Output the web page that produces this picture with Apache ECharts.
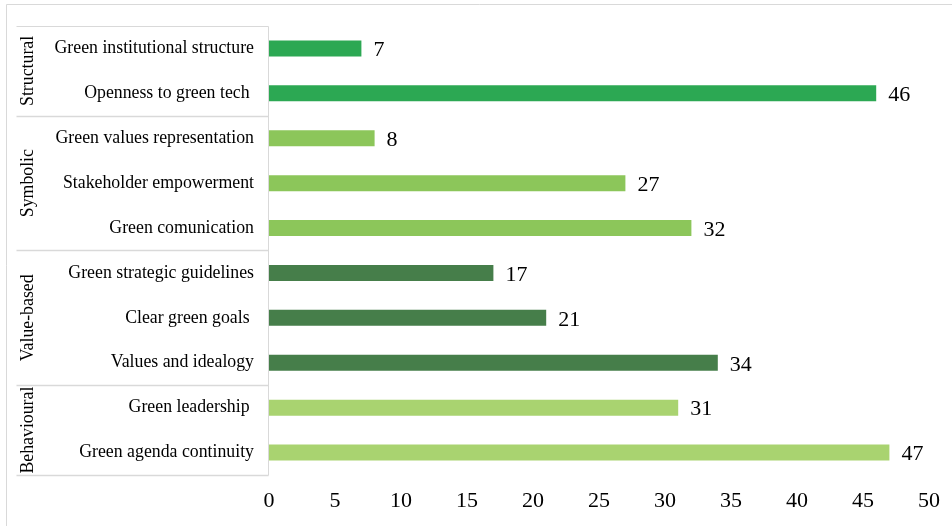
<!DOCTYPE html>
<html><head><meta charset="utf-8">
<script src="https://cdn.jsdelivr.net/npm/echarts@6/dist/echarts.min.js"></script>
<style>html,body{margin:0;padding:0;background:#fff}#c{width:952px;height:526px}</style>
</head><body><div id="c"></div>
<script>
var categories = ["Green institutional structure","Openness to green tech ","Green values representation","Stakeholder empowerment","Green comunication","Green strategic guidelines","Clear green goals ","Values and idealogy","Green leadership ","Green agenda continuity"];
var values = [7,46,8,27,32,17,21,34,31,47];
var groupNames = ["Structural","Symbolic","Value-based","Behavioural"];
var groupSizes = [2,3,3,2];
var groupColors = ["#2ca853","#8cc65a","#467e4a","#a9d370"];
var xTicks = [0,5,10,15,20,25,30,35,40,45,50];

var barColors = [];
groupSizes.forEach(function(n,g){for(var i=0;i<n;i++)barColors.push(groupColors[g]);});

var chart = echarts.init(document.getElementById('c'));
var font = "'Liberation Serif','Times New Roman',serif";
chart.setOption({
  animation:false,
  backgroundColor:'#fff',
  grid:{left:269,right:23,top:26,bottom:51,containLabel:false},
  xAxis:{type:'value',min:xTicks[0],max:xTicks[xTicks.length-1],interval:5,
    axisLine:{show:false},axisTick:{show:false},splitLine:{show:false},
    axisLabel:{color:'#000',fontFamily:font,fontSize:22,margin:15}},
  yAxis:{type:'category',data:categories,inverse:true,
    axisLine:{show:false},axisTick:{show:false},
    axisLabel:{color:'#000',fontFamily:font,fontSize:17.8,margin:15}},
  series:[{type:'bar',barWidth:16,
    data:values.map(function(v,i){return {value:v,itemStyle:{color:barColors[i]}};}),
    label:{show:true,position:'right',distance:12,color:'#000',fontFamily:font,fontSize:22,offset:[0,2]}}]
});

function drawGroups(){
  var els = [];
  els.push({type:'rect',shape:{x:6.5,y:4.5,width:960,height:540},style:{fill:'none',stroke:'#d9d9d9',lineWidth:1},silent:true});
  var c0 = chart.convertToPixel({yAxisIndex:0},0);
  var c1 = chart.convertToPixel({yAxisIndex:0},1);
  var band = c1-c0;
  var left = 16.5, right = 268.5;
  var idx = 0;
  var top = Math.round(c0-band/2)+0.5;
  var bottom = Math.round(chart.convertToPixel({yAxisIndex:0},categories.length-1)+band/2)+0.5;
  els.push({type:'line',shape:{x1:left,y1:top,x2:right,y2:top},style:{stroke:'#d9d9d9',lineWidth:1}});
  els.push({type:'line',shape:{x1:right,y1:top,x2:right,y2:bottom},style:{stroke:'#d9d9d9',lineWidth:1}});
  groupSizes.forEach(function(n,g){
    var yStart = chart.convertToPixel({yAxisIndex:0},idx)-band/2;
    var yEnd = chart.convertToPixel({yAxisIndex:0},idx+n-1)+band/2;
    var yl = Math.round(yEnd)+0.5;
    els.push({type:'line',shape:{x1:left,y1:yl,x2:right,y2:yl},style:{stroke:'#d9d9d9',lineWidth:1.5}});
    els.push({type:'text',x:28,y:(yStart+yEnd)/2,rotation:Math.PI/2,
      style:{text:groupNames[g],fill:'#000',font:'17.8px '+font,align:'center',verticalAlign:'middle'}});
    idx += n;
  });
  chart.setOption({graphic:{elements:els}});
}
drawGroups();
</script></body></html>
